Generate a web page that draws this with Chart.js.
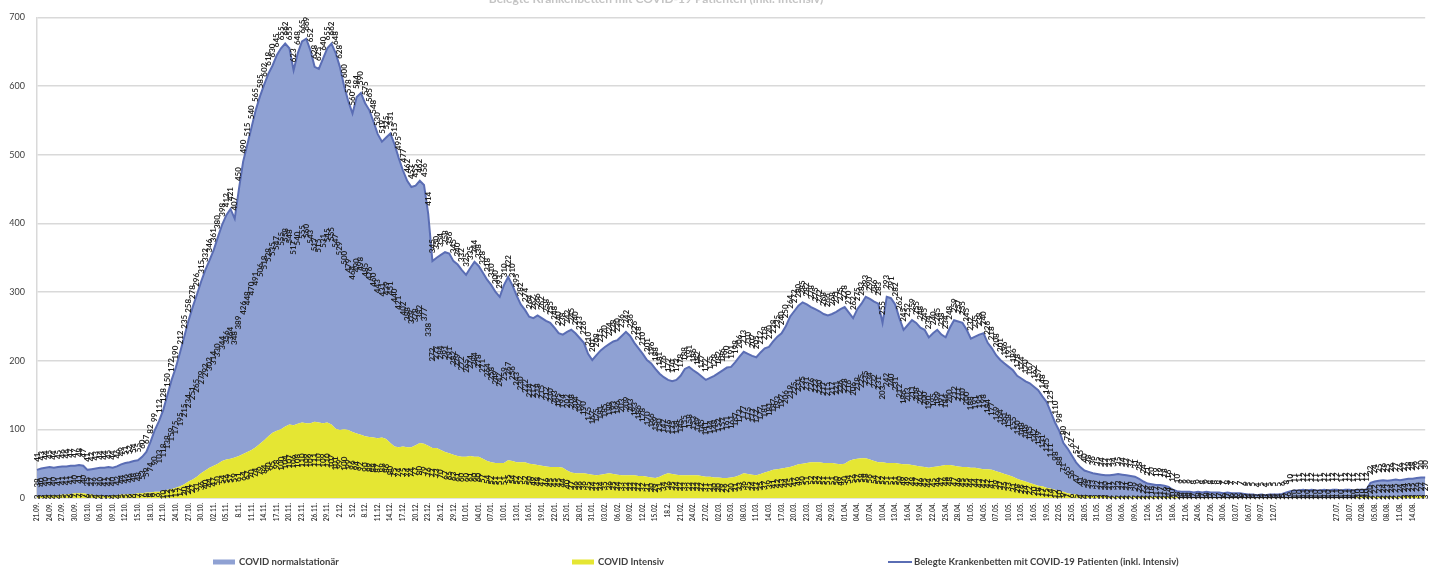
<!DOCTYPE html>
<html>
<head>
<meta charset="utf-8">
<script src="https://cdn.jsdelivr.net/npm/chart.js@4.4.1/dist/chart.umd.min.js"></script>
<style>
  html, body { margin: 0; padding: 0; background: #ffffff; }
  canvas { display: block; }
</style>
</head>
<body>
<canvas id="chart" width="1438" height="568"></canvas>
<script>
// Axis tick labels, one for every third day (blank where no label is printed)
const tickLabels = [
  '21.09.','24.09.','27.09.','30.09.','03.10.','06.10.','09.10.','12.10.','15.10.','18.10.',
  '21.10.','24.10.','27.10.','30.10.','02.11.','05.11.','8.11.','11.11.','14.11.','17.11.',
  '20.11.','23.11.','26.11.','29.11.','2.12.','5.12.','8.12.','11.12.','14.12.','17.12.',
  '20.12.','23.12.','26.12.','29.12.','01.01.','04.01.','07.01.','10.01.','13.01.','16.01.',
  '19.01.','22.01.','25.01.','28.01.','31.01.','03.02.','06.02.','09.02.','12.02.','15.02.',
  '18.2.','21.02.','24.02.','27.02.','02.03.','05.03.','08.03.','11.03.','14.03.','17.03.',
  '20.03.','23.03.','26.03.','29.03.','01.04.','04.04.','07.04.','10.04.','13.04.','16.04.',
  '19.04.','22.04.','25.04.','28.04.','01.05.','04.05.','07.05.','10.05.','13.05.','16.05.',
  '19.05.','22.05.','25.05.','28.05.','31.05.','03.06.','06.06.','09.06.','12.06.','15.06.',
  '18.06.','21.06.','24.06.','27.06.','30.06.','03.07.','06.07.','09.07.','12.07.','',
  '','','','27.07.','30.07.','02.08.','05.08.','08.08.','11.08.','14.08.',''
];

// Occupied beds with COVID-19 patients, total incl. intensive care (daily, from 21.09.)
const belegtGesamt = [
  41,43,44,45,44,45,46,46,47,47,
  48,47,41,42,43,44,44,45,44,46,
  49,51,52,54,55,60,67,82,99,112,
  128,150,172,190,212,235,258,278,296,315,
  332,346,361,380,398,412,421,407,450,490,
  515,540,565,585,602,618,630,645,655,662,
  655,623,648,665,669,652,628,625,640,655,
  662,648,628,600,578,560,584,590,575,565,
  548,530,519,525,531,515,495,477,462,453,
  455,462,456,414,345,350,354,358,356,345,
  340,332,325,335,344,338,328,318,310,300,
  293,310,322,310,295,282,274,264,262,266,
  262,258,255,248,240,238,242,245,240,233,
  226,210,201,208,215,220,224,228,230,236,
  242,236,226,218,210,201,196,188,181,176,
  172,170,172,178,188,191,186,182,177,172,
  175,178,182,186,190,191,198,206,213,210,
  207,205,212,218,220,228,235,240,250,264,
  272,280,285,282,278,275,272,268,266,268,
  271,275,278,270,262,275,283,293,290,286,
  283,255,293,291,282,262,245,252,259,255,
  248,245,234,240,245,238,234,248,259,257,
  255,245,232,235,238,240,226,218,208,201,
  196,191,186,178,174,170,167,162,157,148,
  140,125,110,98,80,72,62,52,45,40,
  38,36,35,34,33,33,34,35,34,33,
  32,31,28,24,21,20,19,19,18,16,
  12,10,9,9,9,8,9,8,9,8,
  8,8,7,8,7,7,7,6,5,5,
  4,5,4,5,5,5,6,8,10,11,
  11,12,11,12,11,11,12,11,12,12,
  11,12,12,11,12,12,12,22,24,25,
  26,25,26,27,26,27,28,28,29,30,
  30
];

// Patients in intensive care (daily, from 21.09.)
const intensiv = [
  3,3,4,4,4,4,5,5,6,7,
  7,7,6,5,4,4,3,3,4,4,
  5,5,6,6,7,7,8,8,9,9,
  10,12,13,15,17,20,24,27,31,36,
  40,44,47,50,54,56,57,59,61,64,
  67,70,74,79,84,90,95,98,100,104,
  107,106,108,110,109,109,111,110,109,110,
  107,101,99,100,99,96,94,92,90,89,
  88,87,88,86,80,75,74,75,74,74,
  77,80,79,76,73,73,70,67,65,63,
  61,60,60,61,60,60,57,54,52,51,
  51,51,55,54,52,52,52,50,49,48,
  47,46,45,45,45,44,40,37,36,36,
  36,35,34,33,34,35,36,35,34,33,
  33,33,33,32,32,31,30,29,31,34,
  36,35,34,33,33,33,33,33,32,31,
  31,30,30,29,29,30,31,33,36,35,
  34,33,35,37,39,41,42,43,44,45,
  47,49,50,51,52,52,52,51,51,51,
  50,49,50,54,56,57,58,58,56,54,
  52,52,51,51,51,50,49,49,48,47,
  46,45,44,45,46,47,48,48,47,46,
  45,45,44,44,43,42,42,41,39,37,
  35,33,31,28,26,24,22,20,18,17,
  15,14,12,10,9,7,6,5,4,4,
  3,3,3,3,3,2,2,2,2,2,
  2,2,2,2,2,2,2,2,2,2,
  2,2,1,1,1,1,1,1,1,1,
  1,1,1,1,1,1,1,1,1,1,
  1,1,1,1,1,1,1,1,1,1,
  1,1,1,1,1,1,1,1,1,1,
  1,1,1,1,2,2,2,2,2,2,
  2,2,2,2,2,3,3,3,3,3,
  3
];

// Normal wards = total minus intensive care
const normalstationaer = belegtGesamt.map((v, i) => v - intensiv[i]);

// One category per day, starting 21.09.2020
const days = belegtGesamt.map((_, i) => {
  const d = new Date(2020, 8, 21 + i);
  return String(d.getDate()).padStart(2, '0') + '.' + String(d.getMonth() + 1).padStart(2, '0') + '.';
});

const yTicks = [0, 100, 200, 300, 400, 500, 600, 700];

const chartTitle = 'Belegte Krankenbetten mit COVID-19 Patienten (inkl. Intensiv)';

const COLORS = {
  normal: '#8fa1d3',
  intensiv: '#e5e633',
  line: '#5a6db4',
  grid: '#d9d9d9',
  text: '#404040',
  label: '#1f1f1f',
  title: '#c4c4c4'
};

const FONT = "'Lato', 'Liberation Sans', sans-serif";

// Value labels: total above the line, the two areas centred in their bands
const valueLabels = {
  id: 'valueLabels',
  afterDatasetsDraw(chart) {
    const { ctx, scales: { x, y } } = chart;
    ctx.save();
    ctx.fillStyle = COLORS.label;
    ctx.font = "bold 8px " + FONT;
    ctx.textBaseline = 'middle';
    const rotText = (txt, px, py, align) => {
      ctx.save();
      ctx.translate(px, py);
      ctx.rotate(-Math.PI / 2);
      ctx.textAlign = align;
      ctx.fillText(txt, 0, 0);
      ctx.restore();
    };
    for (let i = 0; i < days.length; i++) {
      const px = x.getPixelForValue(i);
      rotText(String(belegtGesamt[i]), px, y.getPixelForValue(belegtGesamt[i]) - 8, 'left');
      rotText(String(normalstationaer[i]), px, y.getPixelForValue(intensiv[i] + normalstationaer[i] / 2), 'center');
      rotText(String(intensiv[i]), px, y.getPixelForValue(intensiv[i] / 2), 'center');
    }
    ctx.restore();
  }
};

// Title at the upper edge and legend row along the bottom edge
const frameTexts = {
  id: 'frameTexts',
  afterDraw(chart) {
    const { ctx } = chart;
    ctx.save();
    ctx.font = "bold 12px " + FONT;
    ctx.fillStyle = COLORS.title;
    ctx.textAlign = 'center';
    ctx.textBaseline = 'alphabetic';
    ctx.fillText(chartTitle, 656, 3);

    const ds = chart.data.datasets;
    const items = [
      { d: ds[1], x: 213, kind: 'box' },
      { d: ds[0], x: 572, kind: 'box' },
      { d: ds[2], x: 888, kind: 'line' }
    ];
    const cy = 562;
    ctx.font = "bold 9.5px " + FONT;
    ctx.textBaseline = 'middle';
    ctx.textAlign = 'left';
    items.forEach(it => {
      if (it.kind === 'box') {
        ctx.fillStyle = it.d.backgroundColor;
        ctx.fillRect(it.x, cy - 2.5, 22, 5);
      } else {
        ctx.strokeStyle = it.d.borderColor;
        ctx.lineWidth = 2;
        ctx.beginPath();
        ctx.moveTo(it.x, cy);
        ctx.lineTo(it.x + 24, cy);
        ctx.stroke();
      }
      ctx.fillStyle = COLORS.text;
      ctx.fillText(it.d.label, it.x + 26, cy);
    });
    ctx.restore();
  }
};

new Chart(document.getElementById('chart'), {
  type: 'line',
  data: {
    labels: days,
    datasets: [
      {
        label: 'COVID Intensiv',
        data: intensiv,
        stack: 'betten',
        fill: 'origin',
        backgroundColor: COLORS.intensiv,
        borderWidth: 0,
        pointRadius: 0,
        order: 1
      },
      {
        label: 'COVID normalstationär',
        data: normalstationaer,
        stack: 'betten',
        fill: '-1',
        backgroundColor: COLORS.normal,
        borderWidth: 0,
        pointRadius: 0,
        order: 1
      },
      {
        label: 'Belegte Krankenbetten mit COVID-19 Patienten (inkl. Intensiv)',
        data: belegtGesamt,
        stack: 'gesamt',
        fill: false,
        borderColor: COLORS.line,
        backgroundColor: COLORS.line,
        borderWidth: 2,
        pointRadius: 0,
        order: 0
      }
    ]
  },
  options: {
    responsive: false,
    animation: false,
    devicePixelRatio: 1,
    layout: { padding: { left: 0, right: 10, top: 17, bottom: 0 } },
    plugins: {
      legend: { display: false },
      tooltip: { enabled: false },
      title: { display: false }
    },
    elements: { line: { tension: 0 } },
    scales: {
      x: {
        type: 'category',
        offset: false,
        grid: { display: false, drawTicks: false },
        border: { display: true, color: COLORS.grid, width: 1.5 },
        ticks: {
          autoSkip: false,
          minRotation: 90,
          maxRotation: 90,
          padding: 5,
          color: COLORS.text,
          font: { family: FONT, size: 6.5, weight: 'bold' },
          callback: (v, i) => (i % 3 === 0 ? (tickLabels[i / 3] || '') : '')
        },
        afterFit: s => { s.height = 70; }
      },
      y: {
        stacked: true,
        min: 0,
        max: 700,
        afterBuildTicks: s => { s.ticks = yTicks.map(v => ({ value: v })); },
        grid: { color: COLORS.grid, lineWidth: 1.5, drawTicks: false },
        border: { display: true, color: COLORS.grid, width: 1.5 },
        ticks: {
          padding: 12,
          color: COLORS.text,
          font: { family: FONT, size: 9 }
        },
        afterFit: s => { s.width = 37; }
      }
    }
  },
  plugins: [valueLabels, frameTexts]
});
</script>
</body>
</html>
